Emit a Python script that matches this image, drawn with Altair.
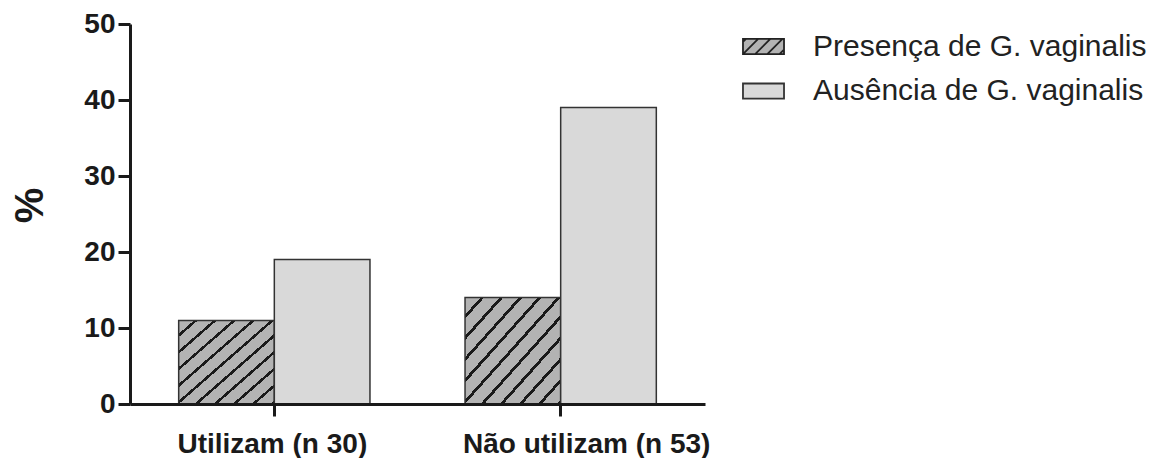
import altair as alt
import pandas as pd

categories = ["Utilizam (n 30)", "Não utilizam (n 53)"]
series = ["Presença de G. vaginalis", "Ausência de G. vaginalis"]
presenca = [11, 14]
ausencia = [19, 39]
y_ticks = [0, 10, 20, 30, 40, 50]

rows = []
for c, p, a in zip(categories, presenca, ausencia):
    rows.append({"grupo": c, "serie": series[0], "valor": p})
    rows.append({"grupo": c, "serie": series[1], "valor": a})
df = pd.DataFrame(rows)

FONT = "Liberation Sans"
HATCH_BG = "#b3b3b3"
LIGHT = "#d9d9d9"
LINE = "#1a1a1a"

# diagonal stripe pattern as a hard-stop gradient
N = 10
frac = 0.2
stops = []
for k in range(N):
    a = k / N
    b = (k + 1 - frac) / N
    c = (k + 1) / N
    stops += [
        {"offset": a, "color": HATCH_BG},
        {"offset": b, "color": HATCH_BG},
        {"offset": b, "color": LINE},
        {"offset": c, "color": LINE},
    ]
hatch_gradient = {"gradient": "linear", "x1": 0, "y1": 0, "x2": 1, "y2": 1, "stops": stops}

# legend symbol shapes (custom SVG paths)
rect_path = "M-1.35,-0.5H1.35V0.5H-1.35Z"
hatch_path = (rect_path +
              " M-1.35,-0.3L-1.15,-0.5"
              " M-1.35,0.5L-0.35,-0.5"
              " M-0.55,0.5L0.45,-0.5"
              " M0.25,0.5L1.25,-0.5"
              " M1.05,0.5L1.35,0.2")

x_enc = alt.X(
    "grupo:N",
    sort=categories,
    title=None,
    scale=alt.Scale(paddingInner=0.332, paddingOuter=0.17),
    axis=alt.Axis(
        labelAngle=0,
        labelFont=FONT,
        labelFontSize=28,
        labelFontWeight="bold",
        labelColor=LINE,
        labelLimit=0,
        labelPadding=14,
        labelOffset={"condition": {"test": f"datum.value === '{categories[1]}'", "value": 26}, "value": -2},
        tickSize=12,
        tickWidth=3,
        tickColor=LINE,
        domainWidth=3,
        domainColor=LINE,
        zindex=1,
    ),
)
y_enc = alt.Y(
    "valor:Q",
    scale=alt.Scale(domain=[0, 50], nice=False),
    title="%",
    axis=alt.Axis(
        values=y_ticks,
        grid=False,
        labelFont=FONT,
        labelFontSize=28,
        labelFontWeight="bold",
        labelColor=LINE,
        labelPadding=3,
        tickSize=12,
        tickWidth=3,
        tickColor=LINE,
        domainWidth=3,
        domainColor=LINE,
        titleFont=FONT,
        titleFontSize=40,
        titleFontWeight="bold",
        titleColor=LINE,
        titleAngle=270,
        titleAlign="center",
        titleBaseline="middle",
        titleX=-100,
        titleY=181,
        zindex=1,
    ),
)
xoff = alt.XOffset("serie:N", sort=series, scale=alt.Scale(paddingInner=0, paddingOuter=0))

bars = alt.Chart(df).mark_bar(stroke="#333333", strokeWidth=1.5).encode(
    x=x_enc,
    y=y_enc,
    xOffset=xoff,
    fill=alt.condition(
        f"datum.serie === '{series[0]}'",
        alt.value(hatch_gradient),
        alt.value(LIGHT),
    ),
)

leg = alt.Legend(title=None, symbolOpacity=1, symbolStrokeWidth=1.8)
legend_pts = alt.Chart(df).mark_point(filled=True, opacity=0).encode(
    x=alt.X("grupo:N", sort=categories),
    y=alt.Y("valor:Q"),
    xOffset=alt.XOffset("serie:N", sort=series),
    fill=alt.Fill(
        "serie:N",
        sort=series,
        scale=alt.Scale(domain=series, range=[HATCH_BG, LIGHT]),
        legend=leg,
    ),
    shape=alt.Shape(
        "serie:N",
        sort=series,
        scale=alt.Scale(domain=series, range=[hatch_path, rect_path]),
        legend=leg,
    ),
    stroke=alt.Stroke(
        "serie:N",
        sort=series,
        scale=alt.Scale(domain=series, range=["#222222", "#333333"]),
        legend=leg,
    ),
)

chart = alt.layer(bars, legend_pts).properties(
    width=575,
    height=380,
    padding={"left": 122, "top": 16, "right": 455, "bottom": 54},
    autosize=alt.AutoSizeParams(type="none"),
).configure_view(
    stroke=None
).configure_legend(
    orient="none",
    legendX=617,
    legendY=6,
    padding=0,
    labelFont=FONT,
    labelFontSize=30,
    labelColor="#222222",
    labelOffset=33,
    labelLimit=0,
    symbolSize=924,
    symbolStrokeWidth=1.8,
    symbolOpacity=1,
    rowPadding=12.6,
)

chart.save("out.html", embed_options={"renderer": "svg", "actions": False})
